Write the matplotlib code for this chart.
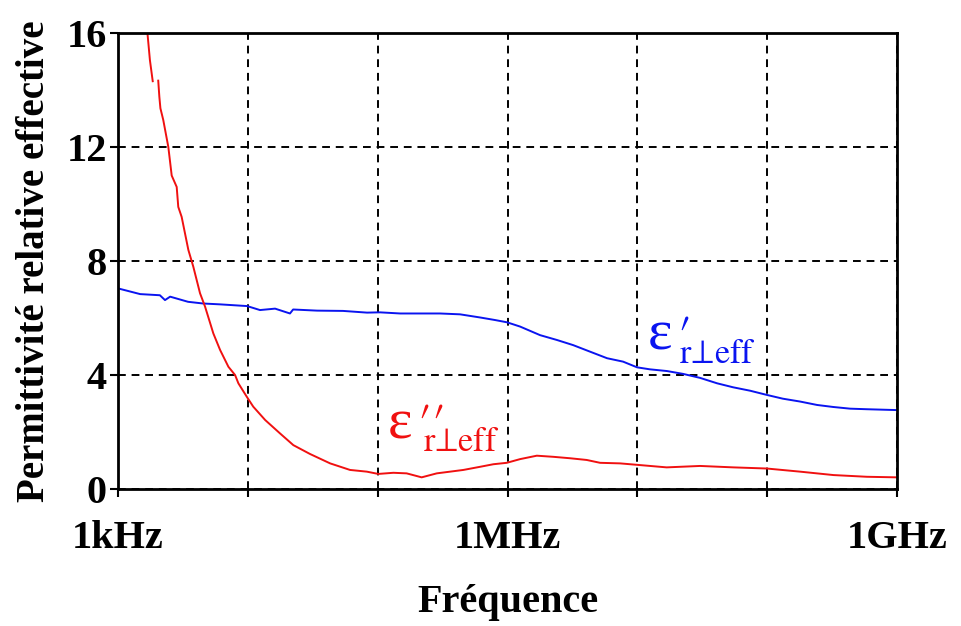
import matplotlib
matplotlib.use('Agg')
import matplotlib.pyplot as plt
import numpy as np

freq_real = [1.0e3, 1.48e3, 2.10e3, 2.30e3, 2.52e3, 3.46e3, 4.52e3, 6.11e3, 9.86e3,
             1.24e4, 1.62e4, 2.11e4, 2.23e4, 3.41e4, 5.41e4, 8.28e4, 1.04e5, 1.49e5,
             3.02e5, 4.31e5, 6.14e5, 8.01e5, 9.91e5, 1.25e6, 1.78e6, 2.40e6, 3.20e6,
             4.32e6, 5.84e6, 7.76e6, 9.95e6, 1.25e7, 1.69e7, 2.25e7, 3.04e7, 4.11e7,
             5.46e7, 7.38e7, 9.98e7, 1.32e8, 1.79e8, 2.42e8, 3.21e8, 4.35e8, 5.87e8, 1.0e9]
eps_real = [7.04, 6.84, 6.80, 6.63, 6.75, 6.57, 6.51, 6.48, 6.42,
            6.28, 6.33, 6.16, 6.30, 6.26, 6.25, 6.19, 6.20, 6.16,
            6.16, 6.13, 6.02, 5.93, 5.85, 5.70, 5.40, 5.23, 5.05,
            4.82, 4.59, 4.47, 4.27, 4.20, 4.14, 4.04, 3.90, 3.71,
            3.57, 3.45, 3.30, 3.17, 3.07, 2.95, 2.88, 2.82, 2.80, 2.77]

freq_imag = [1.69e3, 1.76e3, 1.85e3, 1.95e3, 2.04e3, 2.08e3, 2.12e3, 2.23e3, 2.44e3,
             2.59e3, 2.83e3, 2.91e3, 3.09e3, 3.48e3, 3.80e3, 4.28e3, 4.68e3, 5.42e3,
             6.11e3, 7.08e3, 7.97e3, 8.45e3, 9.80e3, 1.10e4, 1.36e4, 1.77e4, 2.24e4,
             3.01e4, 4.30e4, 6.12e4, 8.24e4, 1.01e5, 1.32e5, 1.67e5, 2.18e5, 2.85e5,
             3.61e5, 4.57e5, 6.14e5, 7.78e5, 9.86e5, 1.25e6, 1.68e6, 2.26e6, 3.03e6,
             4.07e6, 5.16e6, 7.36e6, 1.05e7, 1.68e7, 3.04e7, 5.48e7, 9.91e7, 1.79e8,
             3.24e8, 5.85e8, 9.96e8]
eps_imag = [15.93, 15.05, 14.31, np.nan, 14.33, 13.77, 13.36, 12.95, 12.0,
            11.0, 10.6, 9.9, 9.55, 8.39, 7.8, 6.87, 6.40, 5.46,
            4.88, 4.29, 4.00, 3.71, 3.24, 2.89, 2.42, 1.95, 1.54,
            1.23, 0.90, 0.67, 0.61, 0.53, 0.57, 0.55, 0.41, 0.55,
            0.61, 0.67, 0.78, 0.87, 0.92, 1.05, 1.17, 1.13, 1.08,
            1.02, 0.92, 0.90, 0.84, 0.76, 0.81, 0.76, 0.72, 0.61,
            0.49, 0.43, 0.41]

xticks = [1e3, 1e4, 1e5, 1e6, 1e7, 1e8, 1e9]
xtick_labels = ['1kHz', '', '', '1MHz', '', '', '1GHz']
yticks = [0, 4, 8, 12, 16]

BLUE = '#0a14f0'
RED = '#f01010'

plt.rcParams['font.family'] = 'Liberation Serif'
plt.rcParams['mathtext.fontset'] = 'stix'

fig = plt.figure(figsize=(9.62, 6.26), dpi=100)
ax = fig.add_axes([0.1227, 0.2188, 0.8098, 0.7284])

ax.plot(freq_real, eps_real, color=BLUE, lw=1.4)
ax.plot(freq_imag, eps_imag, color=RED, lw=1.4)

ax.set_xscale('log')
ax.set_xlim(1e3, 1e9)
ax.set_ylim(0, 16)
ax.set_xticks(xticks)
ax.set_xticklabels(xtick_labels)
ax.minorticks_off()
ax.set_yticks(yticks)

ax.grid(True, color='black', linestyle=(0, (4, 3)), linewidth=1.4)
for s in ax.spines.values():
    s.set_linewidth(2)
ax.tick_params(direction='out', length=6, width=1.5, labelsize=29)
ax.tick_params(axis='x', pad=16)
ax.tick_params(axis='y', pad=2)
for lbl in ax.get_xticklabels() + ax.get_yticklabels():
    lbl.set_fontweight('bold')

ax.set_xlabel('Fréquence', fontsize=29, fontweight='bold', labelpad=20)
ax.set_ylabel('Permittivité relative effective', fontsize=28, fontweight='bold', labelpad=10)


# curve labels: big epsilon, then primes + subscript as one math string
def curve_label(x, y, primes, back, color):
    ax.text(x, y, 'ε', color=color, fontsize=42,
            family=['Liberation Serif', 'DejaVu Serif'], va='baseline')
    lab = r'$%s\hspace{%s}^{\,}_{\mathrm{r⊥eff}}$' % (primes, back)
    ax.annotate(lab, (x, y), xytext=(21, 0), textcoords='offset points',
                color=color, fontsize=35, va='baseline')


curve_label(1.21e7, 4.88, r'\prime', '-0.35', BLUE)
curve_label(1.2e5, 1.79, r'\prime\prime', '-0.65', RED)

fig.savefig('out.png', dpi=100)
